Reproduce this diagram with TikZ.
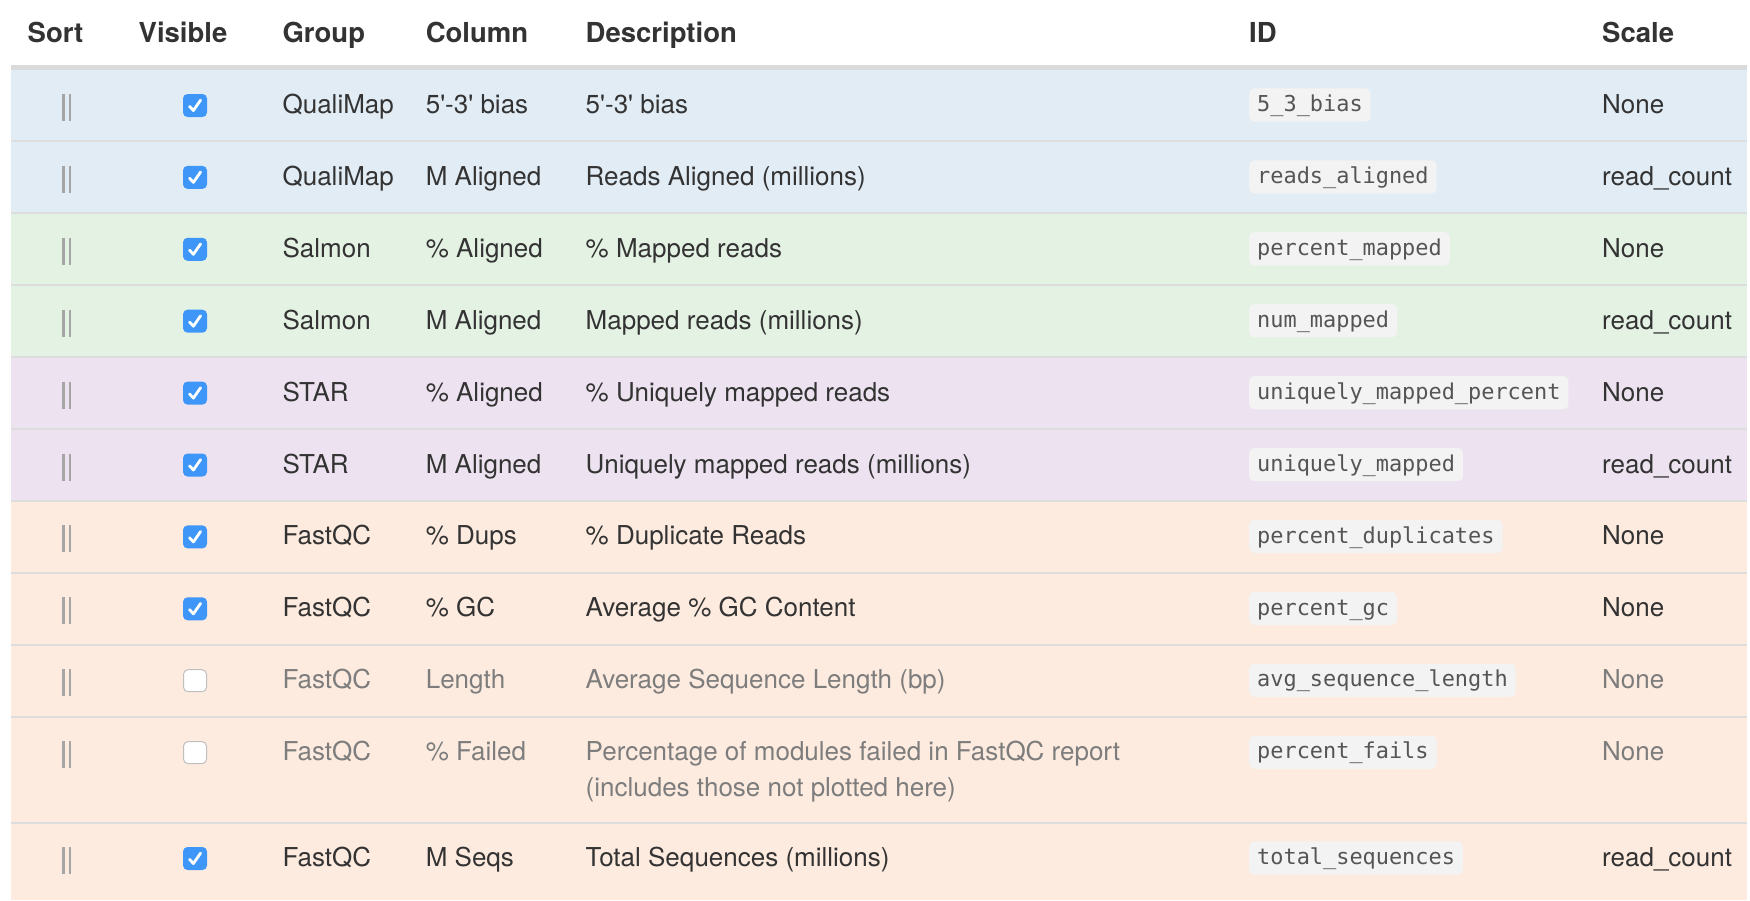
\documentclass[tikz,border=0pt]{standalone}
\usepackage{fontspec}
\setmainfont{TeX Gyre Heros}
\newfontfamily\idfont{DejaVu Sans Mono}
\definecolor{rowblue}{RGB}{225,236,245}
\definecolor{rowgreen}{RGB}{228,242,228}
\definecolor{rowpurple}{RGB}{237,227,240}
\definecolor{rowpeach}{RGB}{254,235,223}
\definecolor{sepgray}{RGB}{221,221,221}
\definecolor{headgray}{RGB}{218,218,218}
\definecolor{txt}{RGB}{51,51,51}
\definecolor{txtoff}{RGB}{125,125,125}
\definecolor{idtxt}{RGB}{85,85,85}
\definecolor{codebg}{RGB}{243,243,243}
\definecolor{cbblue}{RGB}{62,150,248}
\definecolor{handlegray}{RGB}{165,165,165}
\newcommand\mqcrow[9]{%
  % #1 name, #2 baseline, #3 on/off, #4 group, #5 column, #6 description, #7 id, #8 scale, #9 text colour
  \draw[handle] (63.5,#2-19.5) -- (63.5,#2+7.5);
  \draw[handle] (70,#2-19.5) -- (70,#2+7.5);
  \node[box#3] (#1-vis) at (195,#2-8) {};
  \node[cell,text=#9] (#1-grp) at (282.4,#2) {#4};
  \node[cell,text=#9] (#1-col) at (425.6,#2) {#5};
  \node[cell,text=#9] (#1-desc) at (585.5,#2) {#6};
  \node[idbox] (#1-id) at (1249,#2-1.8) {#7};
  \node[cell,text=#9] (#1-scale) at (1602,#2) {#8};
}
\begin{document}
\begin{tikzpicture}[x=1pt,y=-1pt,
  cell/.style={anchor=base west,inner sep=0pt,font=\fontsize{26}{36}\selectfont},
  head/.style={anchor=base west,inner sep=0pt,text=txt,font=\fontsize{27.5}{33}\selectfont\bfseries},
  idbox/.style={anchor=base west,inner xsep=8pt,inner ysep=0pt,text height=23.3pt,text depth=10pt,
    fill=codebg,rounded corners=5pt,text=idtxt,font=\fontsize{21.9}{26}\idfont},
  handle/.style={draw=handlegray,line width=2.6pt},
  boxon/.style={draw=none,fill=cbblue,rounded corners=4.5pt,minimum width=24pt,minimum height=23pt,inner sep=0pt},
  boxoff/.style={draw=black!25,line width=1pt,fill=white,rounded corners=4.5pt,minimum width=23pt,minimum height=22pt,inner sep=0pt},
  checkmark/.style={draw=white,line width=2.8pt,line cap=round,line join=round},
  sepline/.style={draw=sepgray,line width=2pt}]
\useasboundingbox (0,0) rectangle (1750,900);
\fill[white] (0,0) rectangle (1750,900);
% row backgrounds
\fill[rowblue] (11,70) rectangle (1747,213.2);
\fill[rowgreen] (11,213.2) rectangle (1747,357.0);
\fill[rowpurple] (11,357.0) rectangle (1747,500.8);
\fill[rowpeach] (11,500.8) rectangle (1747,900);
\fill[headgray] (11,65) rectangle (1747,70);
% separators
\foreach \k in {0,...,8} {
  \draw[sepline] (11,141.3+\k*71.9) -- (1747,141.3+\k*71.9);
}
\draw[sepline] (11,822.6) -- (1747,822.6);
% header
\node[head] (h-sort) at (27.5,42.7) {Sort};
\node[head] (h-vis) at (138.5,42.7) {Visible};
\node[head] (h-grp) at (282.4,42.7) {Group};
\node[head] (h-col) at (425.6,42.7) {Column};
\node[head] (h-desc) at (585.5,42.7) {Description};
\node[head] (h-id) at (1249,42.7) {ID};
\node[head] (h-scale) at (1602,42.7) {Scale};
% rows
\mqcrow{r1}{113.5}{on}{QualiMap}{5\textquotesingle-3\textquotesingle{} bias}{5\textquotesingle-3\textquotesingle{} bias}{5\_3\_bias}{None}{txt}
\mqcrow{r2}{185.4}{on}{QualiMap}{M Aligned}{Reads Aligned (millions)}{reads\_aligned}{read\_count}{txt}
\mqcrow{r3}{257.3}{on}{Salmon}{\% Aligned}{\% Mapped reads}{percent\_mapped}{None}{txt}
\mqcrow{r4}{329.2}{on}{Salmon}{M Aligned}{Mapped reads (millions)}{num\_mapped}{read\_count}{txt}
\mqcrow{r5}{401.1}{on}{STAR}{\% Aligned}{\% Uniquely mapped reads}{uniquely\_mapped\_percent}{None}{txt}
\mqcrow{r6}{473.0}{on}{STAR}{M Aligned}{Uniquely mapped reads (millions)}{uniquely\_mapped}{read\_count}{txt}
\mqcrow{r7}{544.9}{on}{FastQC}{\% Dups}{\% Duplicate Reads}{percent\_duplicates}{None}{txt}
\mqcrow{r8}{616.8}{on}{FastQC}{\% GC}{Average \% GC Content}{percent\_gc}{None}{txt}
\mqcrow{r9}{688.7}{off}{FastQC}{Length}{Average Sequence Length (bp)}{avg\_sequence\_length}{None}{txtoff}
\mqcrow{r10}{760.6}{off}{FastQC}{\% Failed}{Percentage of modules failed in FastQC report}{percent\_fails}{None}{txtoff}
\node[cell,text=txtoff] (r10-desc2) at (585.5,796.9) {(includes those not plotted here)};
\mqcrow{r11}{866.5}{on}{FastQC}{M Seqs}{Total Sequences (millions)}{total\_sequences}{read\_count}{txt}
% check marks
\foreach \r in {r1,r2,r3,r4,r5,r6,r7,r8,r11} {
  \draw[checkmark] ([shift={(-5.5,0.8)}]\r-vis.center) -- ([shift={(-1.6,5)}]\r-vis.center) -- ([shift={(5.6,-5.4)}]\r-vis.center);
}
\end{tikzpicture}
\end{document}
